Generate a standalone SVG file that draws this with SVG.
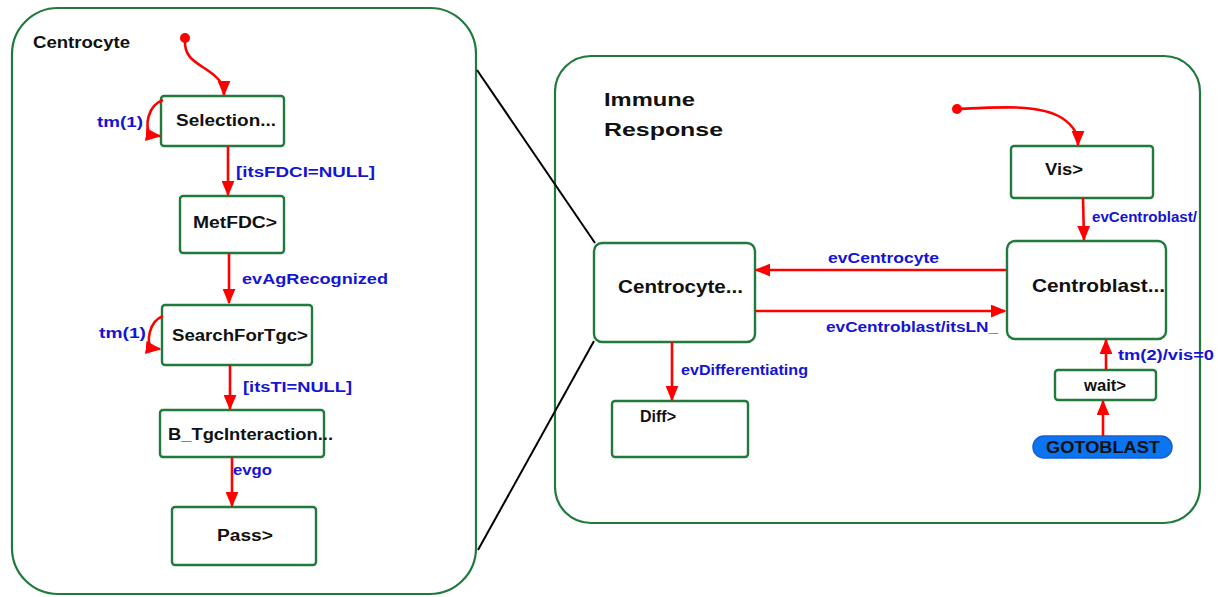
<svg xmlns="http://www.w3.org/2000/svg" width="1218" height="597" viewBox="0 0 1218 597">
  <style>
    .frame { fill: #ffffff; stroke: #1f7a3c; stroke-width: 2.2; }
    .state { fill: #ffffff; stroke: #1f7a3c; stroke-width: 2.4; }
    .name  { font-family: "Liberation Sans", Arial, sans-serif; font-size: 16px; font-weight: bold; fill: #111111; }
    .big   { font-size: 19px; }
    .title { font-family: "Liberation Sans", Arial, sans-serif; font-size: 19px; font-weight: bold; fill: #111111; }
    .lbl   { font-family: "Liberation Sans", Arial, sans-serif; font-size: 14px; font-weight: bold; fill: #1414d2; }
    .tr    { fill: none; stroke: #ff0000; stroke-width: 2.6; marker-end: url(#arr); }
    .zoom  { fill: none; stroke: #000000; stroke-width: 2; }
  </style>
  <defs>
    <marker id="arr" viewBox="0 0 12 10" refX="11" refY="5" markerWidth="6" markerHeight="5" markerUnits="strokeWidth" orient="auto">
      <path d="M0,0 L12,5 L0,10 Z" fill="#ff0000"/>
    </marker>
  </defs>
  <rect width="1218" height="597" fill="#ffffff"/>

  <!-- Centrocyte sub-chart -->
  <g id="centrocyte-chart">
    <rect class="frame" x="12" y="8" width="464" height="586" rx="46" ry="46"/>
    <text class="name" x="33" y="48" textLength="97" lengthAdjust="spacingAndGlyphs">Centrocyte</text>
  </g>
  <g id="selection">
    <rect class="state" x="161" y="96" width="123" height="50" rx="3"/>
    <text class="name" x="176" y="126" textLength="100" lengthAdjust="spacingAndGlyphs">Selection...</text>
  </g>
  <g id="metfdc">
    <rect class="state" x="180" y="196" width="104" height="57" rx="3"/>
    <text class="name" x="193" y="228" textLength="84" lengthAdjust="spacingAndGlyphs">MetFDC&gt;</text>
  </g>
  <g id="searchfortgc">
    <rect class="state" x="162" y="305" width="150" height="60" rx="3"/>
    <text class="name" x="172" y="341" textLength="136" lengthAdjust="spacingAndGlyphs">SearchForTgc&gt;</text>
  </g>
  <g id="b-tgcinteraction">
    <rect class="state" x="160" y="410" width="164" height="47" rx="3"/>
    <text class="name" x="168" y="440" textLength="165" lengthAdjust="spacingAndGlyphs">B_TgcInteraction...</text>
  </g>
  <g id="pass">
    <rect class="state" x="172" y="507" width="144" height="58" rx="3"/>
    <text class="name" x="217" y="541" textLength="56" lengthAdjust="spacingAndGlyphs">Pass&gt;</text>
  </g>

  <!-- Immune Response chart -->
  <g id="immune-response">
    <rect class="frame" x="555" y="56" width="645" height="467" rx="36" ry="36"/>
    <text class="title" x="604" y="106" textLength="91" lengthAdjust="spacingAndGlyphs">Immune</text>
    <text class="title" x="604" y="136" textLength="119" lengthAdjust="spacingAndGlyphs">Response</text>
  </g>

  <!-- zoom-out guide lines between the two charts -->
  <g id="guides">
    <line class="zoom" x1="477" y1="70" x2="595" y2="243"/>
    <line class="zoom" x1="594" y1="341" x2="478" y2="550"/>
  </g>

  <g id="vis">
    <rect class="state" x="1011" y="146" width="142" height="52" rx="3"/>
    <text class="name" x="1045" y="175" textLength="38" lengthAdjust="spacingAndGlyphs">Vis&gt;</text>
  </g>
  <g id="centroblast">
    <rect class="state" x="1007" y="241" width="159" height="98" rx="8"/>
    <text class="name big" x="1032" y="292" textLength="133" lengthAdjust="spacingAndGlyphs">Centroblast...</text>
  </g>
  <g id="centrocyte">
    <rect class="state" x="594" y="243" width="161" height="99" rx="8"/>
    <text class="name big" x="618" y="293" textLength="125" lengthAdjust="spacingAndGlyphs">Centrocyte...</text>
  </g>
  <g id="diff">
    <rect class="state" x="612" y="401" width="136" height="56" rx="3"/>
    <text class="name" x="640" y="422" textLength="36" lengthAdjust="spacingAndGlyphs">Diff&gt;</text>
  </g>
  <g id="wait">
    <rect class="state" x="1055" y="370" width="101" height="30" rx="3"/>
    <text class="name" x="1084" y="391" textLength="42" lengthAdjust="spacingAndGlyphs">wait&gt;</text>
  </g>
  <g id="gotoblast">
    <rect x="1033" y="436" width="139" height="22" rx="11" fill="#0b74f0" stroke="#1a5fd0" stroke-width="1.5"/>
    <text class="name" x="1046" y="453" textLength="114" lengthAdjust="spacingAndGlyphs">GOTOBLAST</text>
  </g>

  <!-- transitions -->
  <g id="connectors">
    <circle cx="185" cy="38" r="5" fill="#ff0000"/>
    <path class="tr" d="M185,40 C184,58 196,62 210,72 C221,80 224,86 224,95"/>
    <path class="tr" d="M163,100 C147,106 145,126 150,135 L160,136"/>
    <path class="tr" d="M228,146 L228,195"/>
    <path class="tr" d="M229,253 L229,303"/>
    <path class="tr" d="M163,316 C148,322 147,342 151,348 L160,349"/>
    <path class="tr" d="M230,365 L230,409"/>
    <path class="tr" d="M232,457 L232,506"/>

    <circle cx="957" cy="109" r="5" fill="#ff0000"/>
    <path class="tr" d="M957,109 C1000,107 1040,104 1062,118 C1074,126 1078,134 1078,145"/>
    <path class="tr" d="M1083,198 L1084,240"/>
    <path class="tr" d="M1006,270 L756,270"/>
    <path class="tr" d="M755,311 L1005,311"/>
    <path class="tr" d="M672,342 L672,400"/>
    <path class="tr" d="M1106,370 L1106,340"/>
    <path class="tr" d="M1103,436 L1103,401"/>
  </g>

  <!-- transition labels -->
  <g id="labels">
    <text class="lbl" x="97" y="127" textLength="46" lengthAdjust="spacingAndGlyphs">tm(1)</text>
    <text class="lbl" x="236" y="177" textLength="139" lengthAdjust="spacingAndGlyphs">[itsFDCI=NULL]</text>
    <text class="lbl" x="242" y="284" textLength="146" lengthAdjust="spacingAndGlyphs">evAgRecognized</text>
    <text class="lbl" x="99" y="338" textLength="47" lengthAdjust="spacingAndGlyphs">tm(1)</text>
    <text class="lbl" x="243" y="392" textLength="109" lengthAdjust="spacingAndGlyphs">[itsTI=NULL]</text>
    <text class="lbl" x="233" y="475" textLength="39" lengthAdjust="spacingAndGlyphs">evgo</text>
    <text class="lbl" x="1092" y="222" textLength="105" lengthAdjust="spacingAndGlyphs">evCentroblast/</text>
    <text class="lbl" x="828" y="263" textLength="111" lengthAdjust="spacingAndGlyphs">evCentrocyte</text>
    <text class="lbl" x="826" y="332" textLength="172" lengthAdjust="spacingAndGlyphs">evCentroblast/itsLN_</text>
    <text class="lbl" x="681" y="375" textLength="127" lengthAdjust="spacingAndGlyphs">evDifferentiating</text>
    <text class="lbl" x="1118" y="360" textLength="96" lengthAdjust="spacingAndGlyphs">tm(2)/vis=0</text>
  </g>
</svg>
